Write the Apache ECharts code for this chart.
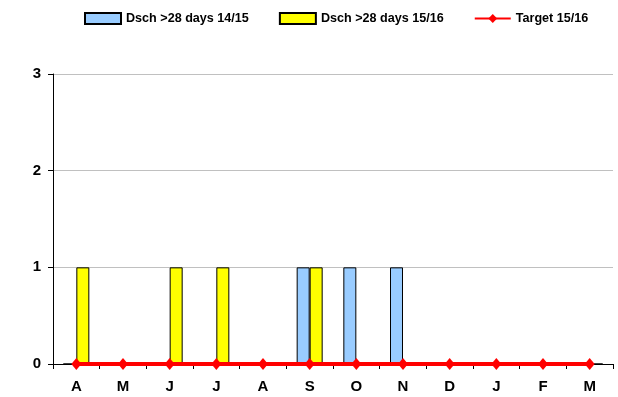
<!DOCTYPE html>
<html>
<head>
<meta charset="utf-8">
<script src="https://cdn.jsdelivr.net/npm/echarts@6/dist/echarts.min.js"></script>
<style>
  html, body { margin: 0; padding: 0; background: #fff; }
  #chart { width: 618px; height: 397px; }
</style>
</head>
<body>
<div id="chart"></div>
<script>
// 月份
let months = ['A', 'M', 'J', 'J', 'A', 'S', 'O', 'N', 'D', 'J', 'F', 'M'];
// 14/15 出院 >28天
let dsch1415 = [0, 0, 0, 0, 0, 1, 1, 1, 0, 0, 0, 0];
// 15/16 出院 >28天
let dsch1516 = [1, 0, 1, 1, 0, 1, 0, 0, 0, 0, 0, 0];
// 目标
let target1516 = [0, 0, 0, 0, 0, 0, 0, 0, 0, 0, 0, 0];

let myChart = echarts.init(document.getElementById('chart'));
let font = '"Liberation Sans", Arial, sans-serif';
let option = {
  animation: false,
  textStyle: { fontFamily: font },
  legend: {
    top: 7,
    left: 79,
    width: 560,
    itemWidth: 36,
    itemHeight: 11,
    itemGap: 30,
    textStyle: { fontSize: 12.6, fontWeight: 'bold', color: '#000', fontFamily: font },
    data: [
      { name: 'Dsch >28 days 14/15', icon: 'rect' },
      { name: 'Dsch >28 days 15/16', icon: 'rect' },
      { name: 'Target 15/16' }
    ]
  },
  grid: {
    left: 53,
    right: 5,
    top: 74,
    bottom: 33
  },
  xAxis: {
    type: 'category',
    data: months,
    axisLine: { lineStyle: { color: '#000', width: 1 } },
    axisTick: { show: true, alignWithLabel: false, length: 5, lineStyle: { color: '#000' } },
    axisLabel: { fontSize: 15, fontWeight: 'bold', color: '#000', margin: 15, fontFamily: font }
  },
  yAxis: {
    type: 'value',
    min: 0,
    max: 3,
    interval: 1,
    axisLine: { show: true, lineStyle: { color: '#000', width: 1 } },
    axisTick: { show: true, length: 5, lineStyle: { color: '#000' } },
    axisLabel: { fontSize: 15, fontWeight: 'bold', color: '#000', margin: 12, fontFamily: font },
    splitLine: { lineStyle: { color: '#c0c0c0', width: 1 } }
  },
  series: [
    {
      name: 'Dsch >28 days 14/15',
      type: 'bar',
      data: dsch1415,
      barWidth: 13,
      barGap: '0%',
      itemStyle: { color: '#99ccff', borderColor: '#000', borderWidth: 1 }
    },
    {
      name: 'Dsch >28 days 15/16',
      type: 'bar',
      data: dsch1516,
      barWidth: 13,
      barGap: '0%',
      itemStyle: { color: '#ffff00', borderColor: '#000', borderWidth: 1 }
    },
    {
      name: 'Target 15/16',
      type: 'line',
      data: target1516,
      symbol: 'diamond',
      symbolSize: [10, 12],
      lineStyle: { color: '#ff0000', width: 4 },
      itemStyle: { color: '#ff0000' },
      z: 5
    }
  ]
};
myChart.setOption(option);
</script>
</body>
</html>
